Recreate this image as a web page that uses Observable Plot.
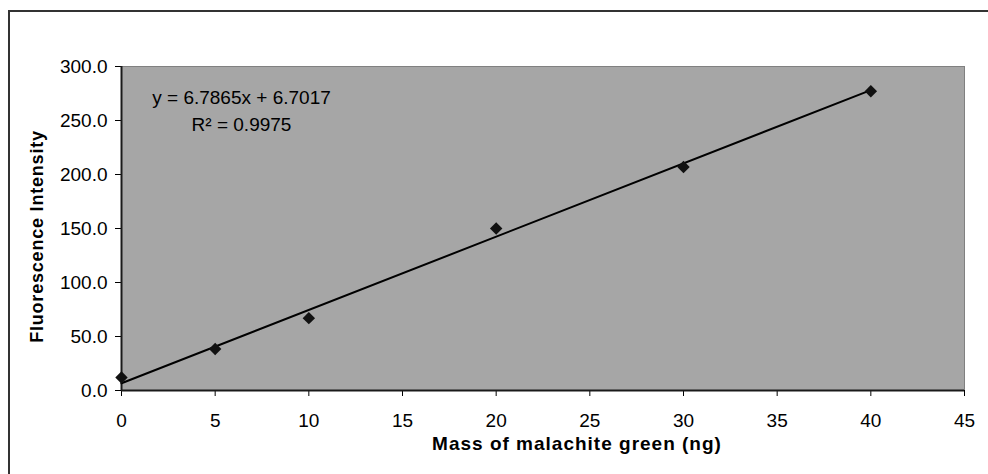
<!DOCTYPE html>
<html>
<head>
<meta charset="utf-8">
<script src="https://cdn.jsdelivr.net/npm/d3@7"></script>
<script src="https://cdn.jsdelivr.net/npm/@observablehq/plot@0.6"></script>
<style>
  html, body { margin: 0; padding: 0; background: #fff; overflow: hidden; }
  #chart { position: relative; width: 988px; height: 474px; overflow: hidden; }
  #chart .outline {
    position: absolute; left: 8px; top: 10px; width: 1400px; height: 900px;
    border-left: 2px solid #333; border-top: 2px solid #333; pointer-events: none;
  }
  #chart svg { position: absolute; left: 0; top: 0; }
</style>
</head>
<body>
<div id="chart"><div class="outline"></div></div>
<script>
// Calibration: fluorescence intensity against mass of malachite green
const mass = [0, 5, 10, 20, 30, 40];
const intensity = [12, 38.5, 67, 150, 207, 277];

// Linear trendline as reported on the chart
const slope = 6.7865;
const intercept = 6.7017;
const rSquared = 0.9975;

const xTicks = [0, 5, 10, 15, 20, 25, 30, 35, 40, 45];
const yTicks = [0, 50, 100, 150, 200, 250, 300];
const xTitle = "Mass of malachite green (ng)";
const yTitle = "Fluorescence Intensity";

const points = mass.map((m, i) => ({mass: m, intensity: intensity[i]}));
const trendEnds = [d3.min(mass), d3.max(mass)];
const trend = trendEnds.map(m => ({mass: m, intensity: slope * m + intercept}));
const equation = `y = ${slope}x + ${intercept}\nR² = ${rSquared}`;

const chart = Plot.plot({
  width: 988,
  height: 474,
  marginLeft: 121,
  marginRight: 24,
  marginTop: 66,
  marginBottom: 84,
  style: {
    fontFamily: "'Liberation Sans', Arial, sans-serif",
    fontSize: "19px",
    color: "#000",
    background: "transparent"
  },
  x: {domain: [0, 45]},
  y: {domain: [0, 300]},
  marks: [
    Plot.frame({fill: "#a6a6a6", stroke: "#808080"}),
    Plot.axisX({ticks: xTicks, tickSize: 6, tickPadding: 17, label: null}),
    Plot.axisY({ticks: yTicks, tickSize: 6, tickPadding: 8, tickFormat: d => d.toFixed(1), label: null}),
    Plot.ruleY([0], {stroke: "#1a1a1a", strokeWidth: 2}),
    Plot.ruleX([0], {stroke: "#1a1a1a", strokeWidth: 2}),
    Plot.line(trend, {x: "mass", y: "intensity", stroke: "#000", strokeWidth: 2}),
    Plot.dot(points, {x: "mass", y: "intensity", symbol: "diamond2", r: 5.6, fill: "#111", stroke: "none"}),
    Plot.text([equation], {
      text: d => d, frameAnchor: "top-left", dx: 120, dy: 18,
      textAnchor: "middle", lineAnchor: "top", lineHeight: 1.42, fontSize: 19, fill: "#000"
    }),
    // Axis titles
    Plot.text([xTitle], {
      text: d => d, frameAnchor: "bottom", dx: 34, dy: 46,
      textAnchor: "middle", lineAnchor: "top", fontSize: 19, fontWeight: "bold", fill: "#000"
    }),
    Plot.text([yTitle], {
      text: d => d, frameAnchor: "left", dx: -84, dy: 8, rotate: -90,
      textAnchor: "middle", lineAnchor: "middle", fontSize: 18, fontWeight: "bold", fill: "#000"
    })
  ]
});

// Slightly open tracking on the bold axis titles
const spacing = new Map([[xTitle, "1px"], [yTitle, "0.8px"]]);
d3.select(chart).selectAll("text")
  .filter(function () { return spacing.has(this.textContent); })
  .attr("letter-spacing", function () { return spacing.get(this.textContent); });

document.getElementById("chart").appendChild(chart);
</script>
</body>
</html>
